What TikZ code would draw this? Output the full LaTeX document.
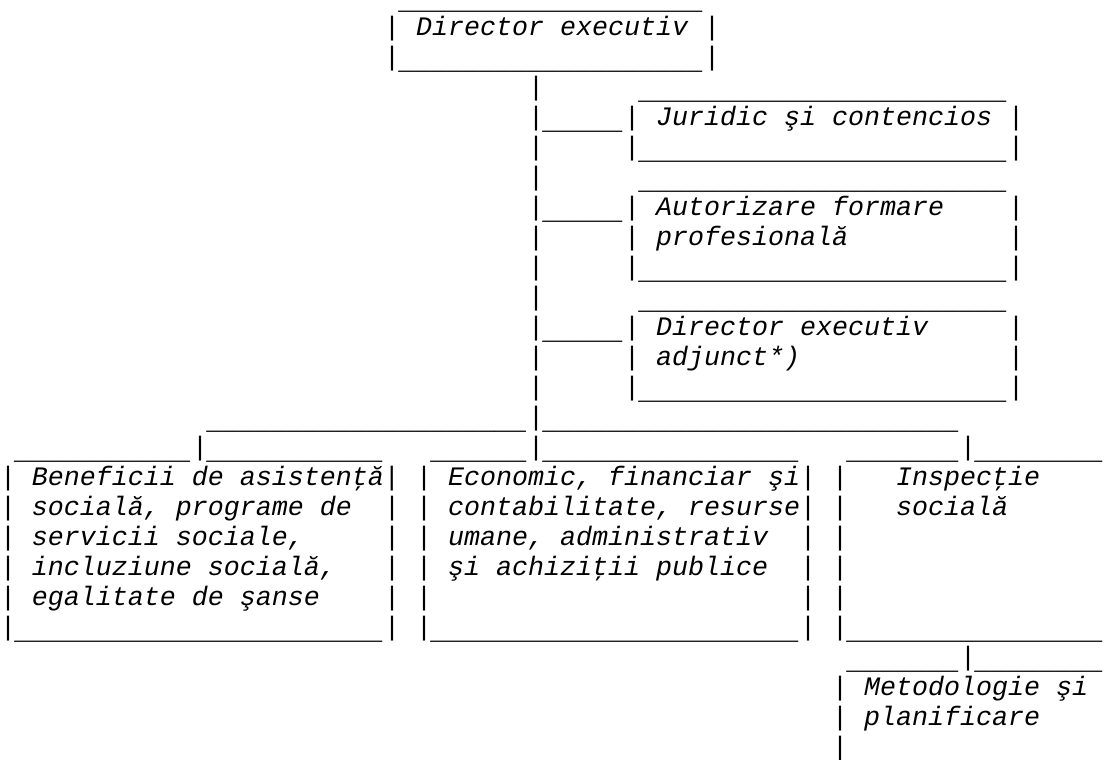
\documentclass[tikz,border=0pt]{standalone}
\usepackage{fontspec}
\newfontfamily\cour{Liberation Mono}
\ExplSyntaxOn
\NewDocumentCommand\U{m}{\smash{\raisebox{-3pt}{\prg_replicate:nn{#1}{\textunderscore}}}}
\ExplSyntaxOff
\tikzset{txt/.style={anchor=base west,inner sep=0pt,outer sep=0pt,yshift=-4.125pt,
  font=\cour\itshape\fontsize{20}{24}\selectfont,text=black}}
\begin{document}
\begin{tikzpicture}[x=12pt,y=-22.5pt]
\useasboundingbox[fill=white] (0pt,0pt) rectangle (831pt,-570pt);
% Director executiv
\node[txt] (r0) at (25,0) {\U{19}};
\node[txt] (r1) at (24,1) {| Director executiv |};
\node[txt] (r2) at (24,2) {|\U{19}|};
% Juridic
\node[txt] (r3a) at (33,3) {|};
\node[txt] (r3b) at (40,3) {\U{23}};
\node[txt] (r4) at (33,4) {|\U{5}| Juridic şi contencios |};
\node[txt] (r5a) at (33,5) {|};
\node[txt] (r5b) at (39,5) {|\U{23}|};
% Autorizare
\node[txt] (r6a) at (33,6) {|};
\node[txt] (r6b) at (40,6) {\U{23}};
\node[txt] (r7a) at (33,7) {|\U{5}| Autorizare formare};
\node[txt] (r7b) at (63,7) {|};
\node[txt] (r8a) at (33,8) {|};
\node[txt] (r8b) at (39,8) {| profesională};
\node[txt] (r8c) at (63,8) {|};
\node[txt] (r9a) at (33,9) {|};
\node[txt] (r9b) at (39,9) {|\U{23}|};
% Director executiv adjunct
\node[txt] (r10a) at (33,10) {|};
\node[txt] (r10b) at (40,10) {\U{23}};
\node[txt] (r11a) at (33,11) {|\U{5}| Director executiv};
\node[txt] (r11b) at (63,11) {|};
\node[txt] (r12a) at (33,12) {|};
\node[txt] (r12b) at (39,12) {| adjunct*)};
\node[txt] (r12c) at (63,12) {|};
\node[txt] (r13a) at (33,13) {|};
\node[txt] (r13b) at (39,13) {|\U{23}|};
% branch line
\node[txt] (r14) at (13,14) {\U{20}|\U{26}};
\node[txt] (r15a) at (1,15) {\U{11}|\U{11}};
\node[txt] (r15b) at (27,15) {\U{6}|\U{16}};
\node[txt] (r15c) at (53,15) {\U{7}|\U{8}};
% bottom boxes
\node[txt] (r16a) at (0,16) {| Beneficii de asistenţă|};
\node[txt] (r16b) at (26,16) {| Economic, financiar şi|};
\node[txt] (r16c) at (52,16) {|};
\node[txt] (r16d) at (56,16) {Inspecţie};
\node[txt] (r17a) at (0,17) {| socială, programe de};
\node[txt] (r17b) at (24,17) {|};
\node[txt] (r17c) at (26,17) {| contabilitate, resurse|};
\node[txt] (r17d) at (52,17) {|};
\node[txt] (r17e) at (56,17) {socială};
\node[txt] (r18a) at (0,18) {| servicii sociale,};
\node[txt] (r18b) at (24,18) {|};
\node[txt] (r18c) at (26,18) {| umane, administrativ};
\node[txt] (r18d) at (50,18) {|};
\node[txt] (r18e) at (52,18) {|};
\node[txt] (r19a) at (0,19) {| incluziune socială,};
\node[txt] (r19b) at (24,19) {|};
\node[txt] (r19c) at (26,19) {| şi achiziţii publice};
\node[txt] (r19d) at (50,19) {|};
\node[txt] (r19e) at (52,19) {|};
\node[txt] (r20a) at (0,20) {| egalitate de şanse};
\node[txt] (r20b) at (24,20) {|};
\node[txt] (r20c) at (26,20) {|};
\node[txt] (r20d) at (50,20) {|};
\node[txt] (r20e) at (52,20) {|};
\node[txt] (r21a) at (0,21) {|\U{23}|};
\node[txt] (r21b) at (26,21) {|\U{23}|};
\node[txt] (r21c) at (52,21) {|\U{16}};
% Metodologie
\node[txt] (r22) at (53,22) {\U{7}|\U{8}};
\node[txt] (r23) at (52,23) {| Metodologie şi};
\node[txt] (r24) at (52,24) {| planificare};
\node[txt] (r25) at (52,25) {|};
\end{tikzpicture}
\end{document}
